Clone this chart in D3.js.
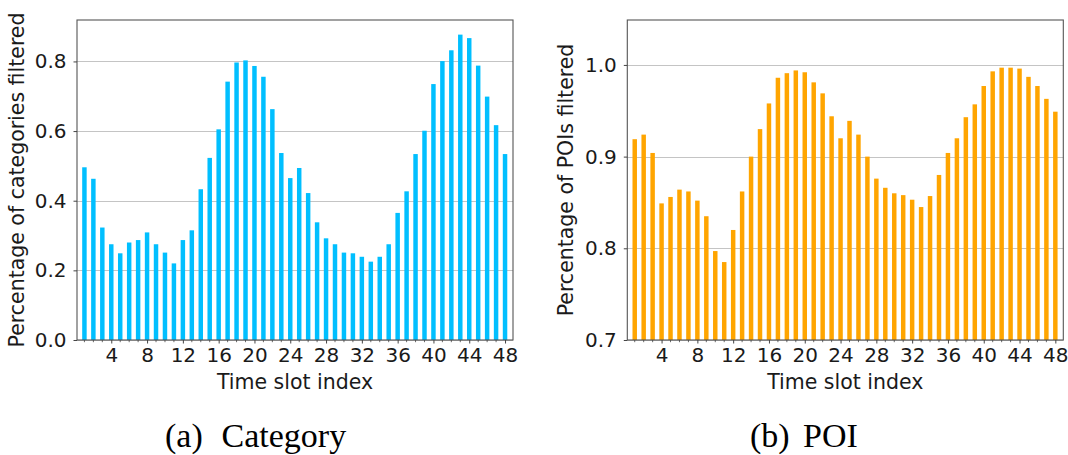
<!DOCTYPE html>
<html><head><meta charset="utf-8">
<script src="https://cdn.jsdelivr.net/npm/d3@7"></script>
<style>body{margin:0;background:#fff}svg{display:block}</style>
</head><body>
<svg id="c" width="1068" height="455"></svg>
<script>
const slots = d3.range(1, 49);
const categoryValues = [0.496,0.463,0.323,0.275,0.249,0.280,0.287,0.309,0.275,0.251,0.220,0.287,0.315,0.433,0.523,0.605,0.742,0.797,0.803,0.787,0.756,0.663,0.537,0.465,0.494,0.422,0.338,0.292,0.275,0.251,0.249,0.239,0.225,0.239,0.275,0.365,0.427,0.534,0.601,0.735,0.801,0.832,0.877,0.867,0.788,0.699,0.617,0.534];
const poiValues = [0.919,0.924,0.904,0.849,0.856,0.864,0.862,0.852,0.835,0.797,0.785,0.820,0.862,0.900,0.930,0.958,0.986,0.991,0.994,0.992,0.981,0.969,0.944,0.920,0.939,0.924,0.900,0.876,0.866,0.860,0.858,0.853,0.845,0.857,0.880,0.904,0.920,0.943,0.957,0.977,0.993,0.997,0.997,0.996,0.987,0.977,0.963,0.949];
const xTickValues = [4,8,12,16,20,24,28,32,36,40,44,48];
const catYTicks = [0.0,0.2,0.4,0.6,0.8];
const poiYTicks = [0.7,0.8,0.9,1.0];
const panels = [
  {values: categoryValues, color:"#00BFFF", yDomain:[0,0.919], yTicks:catYTicks,
   ylabel:"Percentage of categories filtered", capTag:"(a)", capText:"Category",
   left:77, right:513, ylabX:23.5, capX1:165, capX2:221.5},
  {values: poiValues, color:"#FFA500", yDomain:[0.7,1.049], yTicks:poiYTicks,
   ylabel:"Percentage of POIs filtered", capTag:"(b)", capText:"POI",
   left:627.3, right:1063.3, ylabX:573, capX1:750, capX2:803}
];
const plotTop = 20, plotBottom = 340;
const svg = d3.select("#c");
const font = "DejaVu Sans, sans-serif";

panels.forEach(p => {
  const x = d3.scaleLinear().domain([0.17, 48.89]).range([p.left, p.right]);
  const y = d3.scaleLinear().domain(p.yDomain).range([plotBottom, plotTop]);
  const g = svg.append("g");
  g.selectAll("line.grid").data(p.yTicks).enter().append("line")
    .attr("x1", p.left).attr("x2", p.right)
    .attr("y1", d => Math.round(y(d))+0.5).attr("y2", d => Math.round(y(d))+0.5)
    .attr("stroke", "#c4c4c4").attr("stroke-width", 1.1);
  const bw = x(1.5) - x(1);
  g.selectAll("rect").data(p.values).enter().append("rect")
    .attr("x", (d,i) => x(slots[i]) - bw/2)
    .attr("width", bw)
    .attr("y", d => y(d))
    .attr("height", d => plotBottom - y(d))
    .attr("fill", p.color);
  g.append("rect").attr("x", p.left).attr("y", plotTop)
    .attr("width", p.right - p.left).attr("height", plotBottom - plotTop)
    .attr("fill", "none").attr("stroke", "#555").attr("stroke-width", 1.1);
  g.selectAll("line.minor").data(slots.filter(s => s % 4 !== 0)).enter().append("line")
    .attr("x1", d => x(d)).attr("x2", d => x(d))
    .attr("y1", plotBottom).attr("y2", plotBottom + 2.2)
    .attr("stroke", "#444").attr("stroke-width", 0.8);
  const xa = d3.axisBottom(x).tickValues(xTickValues).tickSize(3.5).tickPadding(4)
    .tickFormat(d3.format("d"));
  const xg = g.append("g").attr("transform", `translate(0,${plotBottom})`).call(xa);
  xg.select(".domain").remove();
  xg.selectAll("line").attr("stroke", "#444");
  xg.selectAll("text").attr("font-family", font).attr("font-size", 20).attr("fill", "#1a1a1a");
  const ya = d3.axisLeft(y).tickValues(p.yTicks).tickSize(3.5).tickPadding(7)
    .tickFormat(d3.format(".1f"));
  const yg = g.append("g").attr("transform", `translate(${p.left},0)`).call(ya);
  yg.select(".domain").remove();
  yg.selectAll("line").attr("stroke", "#444");
  yg.selectAll("text").attr("font-family", font).attr("font-size", 20).attr("fill", "#1a1a1a");
  g.append("text").attr("x", (p.left + p.right)/2).attr("y", 389)
    .attr("text-anchor", "middle").attr("font-family", font).attr("font-size", 20.5)
    .attr("fill", "#1a1a1a").text("Time slot index");
  g.append("text").attr("transform", `translate(${p.ylabX},${(plotTop+plotBottom)/2}) rotate(-90)`)
    .attr("text-anchor", "middle").attr("font-family", font).attr("font-size", 20.5)
    .attr("fill", "#1a1a1a").text(p.ylabel);
  g.append("text").attr("x", p.capX1).attr("y", 447)
    .attr("font-family", "Liberation Serif, Times New Roman, serif").attr("font-size", 34)
    .attr("fill", "#000").text(p.capTag);
  g.append("text").attr("x", p.capX2).attr("y", 447)
    .attr("font-family", "Liberation Serif, Times New Roman, serif").attr("font-size", 34)
    .attr("fill", "#000").text(p.capText);
});
</script>
</body></html>
